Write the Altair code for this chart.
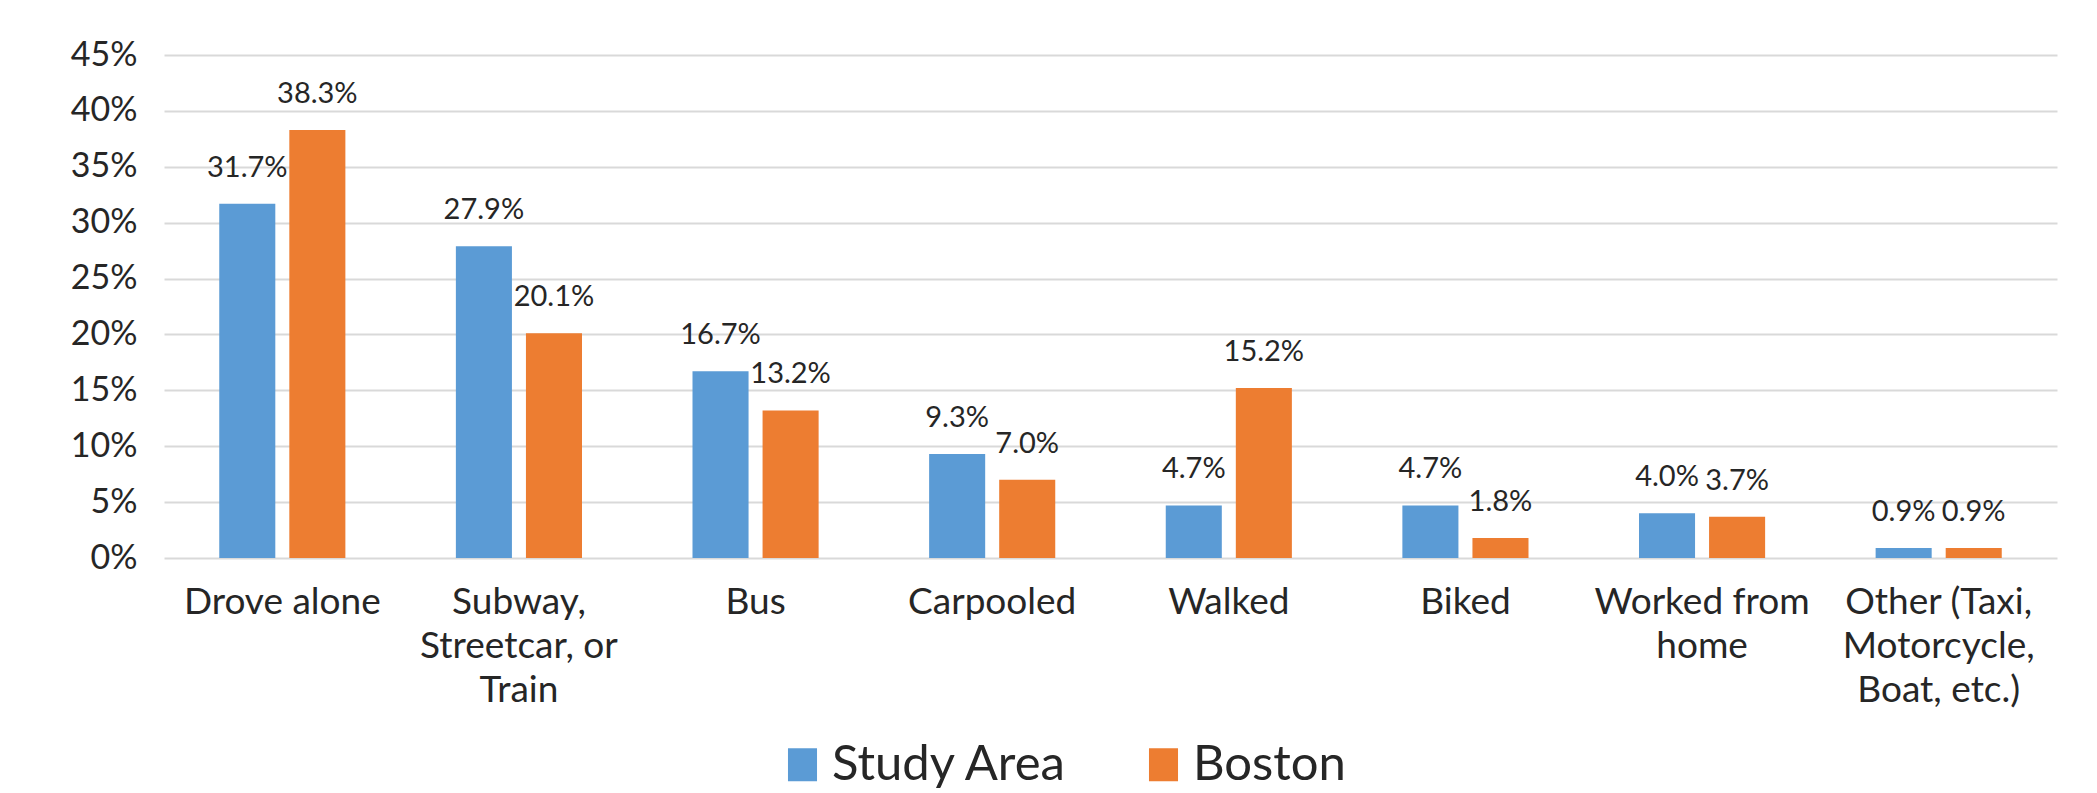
import altair as alt
import pandas as pd

# ---- data ----
categories = [
    "Drove alone",
    "Subway,\nStreetcar, or\nTrain",
    "Bus",
    "Carpooled",
    "Walked",
    "Biked",
    "Worked from\nhome",
    "Other (Taxi,\nMotorcycle,\nBoat, etc.)",
]
series_names = ["Study Area", "Boston"]
study_area = [31.7, 27.9, 16.7, 9.3, 4.7, 4.7, 4.0, 0.9]
boston = [38.3, 20.1, 13.2, 7.0, 15.2, 1.8, 3.7, 0.9]
colors = ["#5B9BD5", "#ED7D31"]
y_ticks = [0, 5, 10, 15, 20, 25, 30, 35, 40, 45]

rows = []
for c, s, b in zip(categories, study_area, boston):
    rows.append({"category": c, "series": series_names[0], "value": s})
    rows.append({"category": c, "series": series_names[1], "value": b})
df = pd.DataFrame(rows)

TEXT = "#262626"

x_enc = alt.X(
    "category:N",
    sort=categories,
    scale=alt.Scale(paddingInner=0.467, paddingOuter=0.2335),
    axis=alt.Axis(
        title=None,
        labelAngle=0,
        labelFontSize=37,
        labelLineHeight=44,
        labelPadding=26,
        ticks=False,
        domain=False,
        labelExpr="split(datum.label, '\\n')",
        labelLimit=600,
        labelColor=TEXT,
    ),
)
y_enc = alt.Y(
    "value:Q",
    scale=alt.Scale(domain=[0, 45], nice=False),
    axis=alt.Axis(
        title=None,
        values=y_ticks,
        labelExpr="datum.value + '%'",
        labelFontSize=34,
        labelPadding=27,
        ticks=False,
        tickSize=0,
        domain=False,
        gridColor="#D9D9D9",
        gridWidth=2,
        labelColor=TEXT,
    ),
)
xoff = alt.XOffset(
    "series:N", sort=series_names, scale=alt.Scale(paddingInner=0.2, paddingOuter=0)
)
color_enc = alt.Color(
    "series:N",
    sort=series_names,
    scale=alt.Scale(domain=series_names, range=colors),
    legend=alt.Legend(
        title=None,
        orient="none",
        legendX=614,
        legendY=685,
        direction="horizontal",
        symbolType="M-0.88,-1H0.88V1H-0.88Z",
        symbolSize=1089,
        symbolStrokeWidth=0,
        symbolOpacity=1,
        labelFontSize=49,
        labelOffset=5,
        columnPadding=71,
        labelColor=TEXT,
        padding=0,
        labelLimit=0,
    ),
)

base = alt.Chart(df).encode(x=x_enc, y=y_enc, xOffset=xoff)

bars = base.mark_bar(strokeWidth=0).encode(color=color_enc)
labels = base.transform_calculate(
    lab="format(datum.value, '.1f') + '%'"
).mark_text(fontSize=29, dy=-27, baseline="alphabetic", color=TEXT).encode(
    text="lab:N"
)

chart = (
    alt.layer(bars, labels)
    .properties(
        width=1893,
        height=503,
        autosize=alt.AutoSizeParams(type="none"),
        padding={"left": 156, "top": 47, "right": 10, "bottom": 233},
    )
    .configure(font="Lato")
    .configure_view(stroke=None)
)

chart.save("out.html", embed_options={"renderer": "svg", "actions": False})
